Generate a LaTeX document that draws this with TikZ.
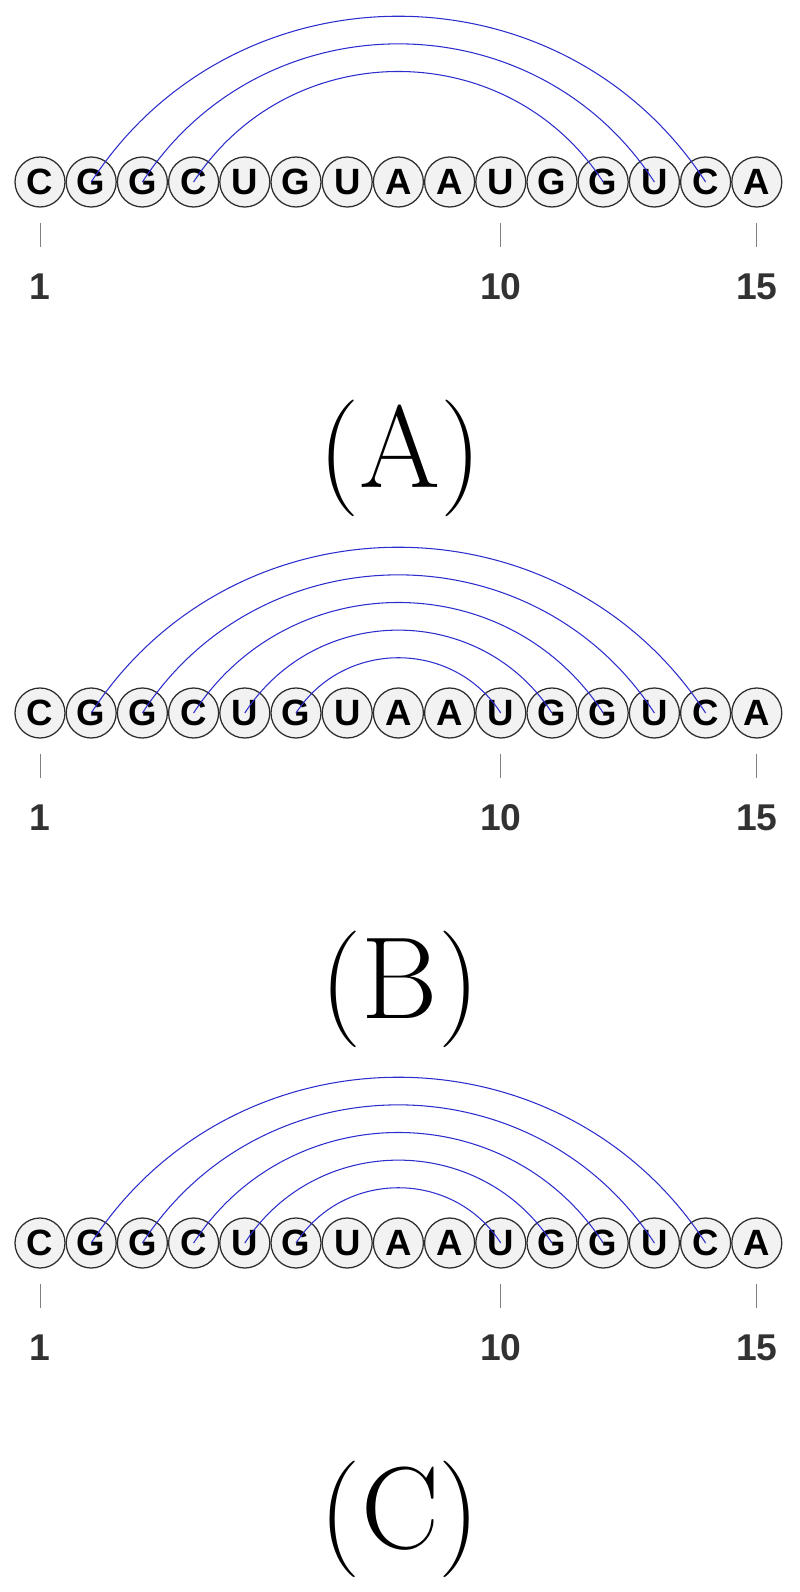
\documentclass[tikz,border=0pt]{standalone}
\usepackage{fontspec}
\usepackage{tikz}
\usetikzlibrary{positioning}
\newfontfamily\seqfont{Liberation Sans}
\definecolor{bondblue}{RGB}{45,45,205}
\definecolor{ringgray}{RGB}{45,45,45}
\definecolor{nucfill}{RGB}{242,242,242}
\definecolor{numgray}{RGB}{50,50,50}
\tikzset{
  nuc/.style={circle,draw=ringgray,fill=nucfill,line width=0.9pt,
    minimum size=1.25cm,inner sep=0pt,
    font=\seqfont\bfseries\fontsize{26}{26}\selectfont},
  bond/.style={bondblue,line width=0.75pt},
  tickmark/.style={gray,line width=0.6pt},
  seqnum/.style={text=numgray,inner sep=0pt,
    font=\seqfont\bfseries\fontsize{26.5}{26.5}\selectfont},
  panel/.style={inner sep=0pt,font=\fontsize{83}{90}\selectfont}
}

\begin{document}
\begin{tikzpicture}[x=0.025cm,y=-0.025cm]
                \useasboundingbox (0,0) rectangle (800,1592);
                % three copies of the sequence
                \foreach \p/\yy/\lab in {a/182/A,b/713/B,c/1243/C}{
                    \foreach \b [count=\i] in {C,G,G,C,U,G,U,A,A,U,G,G,U,C,A}
                        \node[nuc] (\p\i) at ({40+(\i-1)*51.2},\yy) {\b};
                    \foreach \i in {1,10,15}{
                        \draw[tickmark] ([yshift=-0.375cm]\p\i.south) -- ++(0,24);
                        \node[seqnum] (\p n\i) at ({40+(\i-1)*51.2},\yy+105) {\i};
                    }
                    \node[panel] (\p lab) at (400,\yy+276) {(\lab)};
                }
                % base pairs
                \foreach \i/\j in {2/14,3/13,4/12}
                    \draw[bond] (a\i.center) to[bend left=57,looseness=1.1] (a\j.center);
                \foreach \p in {b,c}
                    \foreach \i/\j in {2/14,3/13,4/12,5/11,6/10}
                        \draw[bond] (\p\i.center) to[bend left=57,looseness=1.1] (\p\j.center);
            \end{tikzpicture}
\end{document}
